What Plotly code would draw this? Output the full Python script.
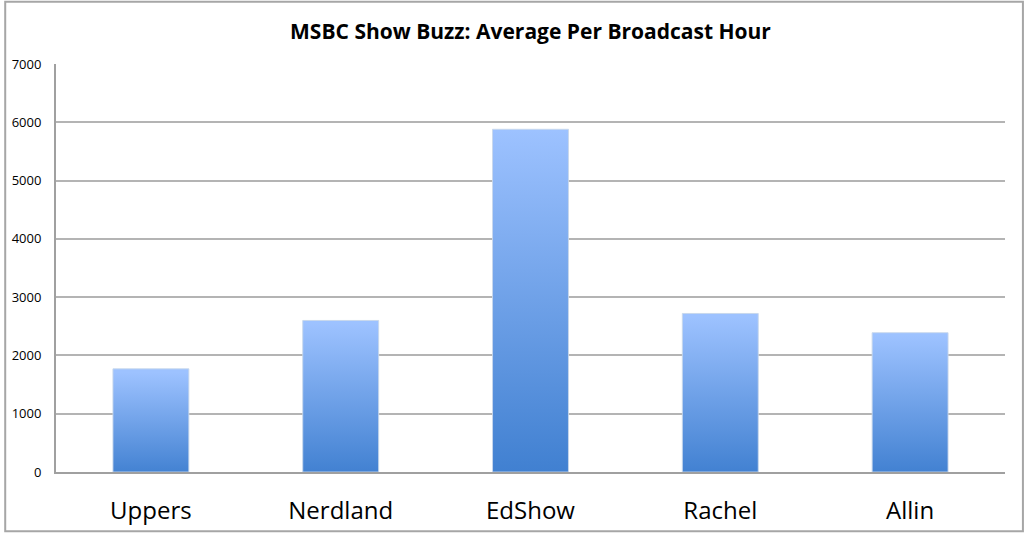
import plotly.graph_objects as go

categories = ["Uppers", "Nerdland", "EdShow", "Rachel", "Allin"]
values = [1770, 2600, 5880, 2720, 2390]
y_ticks = [0, 1000, 2000, 3000, 4000, 5000, 6000, 7000]

W, H = 1024, 538
ML, MR, MT, MB = 52, 19, 64, 61
half = 0.2

fig = go.Figure()
for i, (c, v) in enumerate(zip(categories, values)):
    fig.add_trace(go.Scatter(
        x=[i - half, i + half, i + half, i - half, i - half],
        y=[0, 0, v, v, 0],
        mode="lines",
        fill="toself",
        line=dict(width=1, color="rgba(200,215,235,0.9)"),
        fillgradient=dict(type="vertical", start=0, stop=v,
                          colorscale=[[0, "#3f7fd0"], [1, "#9dc2ff"]]),
        name=c,
        hoverinfo="skip",
        showlegend=False,
    ))

pw = W - ML - MR
ph = H - MT - MB
fig.add_shape(type="rect", xref="paper", yref="paper",
              x0=(1 - ML) / pw, x1=(W - 1 - ML) / pw,
              y0=-(MB - 1) / ph, y1=1 + (MT - 1) / ph,
              line=dict(color="#a6a6a6", width=2), layer="below")

fig.update_layout(
    width=W, height=H,
    margin=dict(l=ML, r=MR, t=MT, b=MB),
    paper_bgcolor="white", plot_bgcolor="white",
    title=dict(text="<b>MSBC Show Buzz: Average Per Broadcast Hour</b>",
               x=0.5, xref="paper", y=1 - 32 / H, yanchor="middle",
               font=dict(family="Open Sans", size=21, color="#000")),
    xaxis=dict(range=[-0.5, 4.5], tickvals=list(range(len(categories))),
               ticktext=categories, showgrid=False, zeroline=False,
               showline=True, linecolor="#a0a0a0", linewidth=2,
               ticks="", ticklabelstandoff=16,
               tickfont=dict(family="Open Sans", size=24, color="#000"),
               fixedrange=True),
    yaxis=dict(range=[0, 7000], tickvals=y_ticks, showgrid=True,
               gridcolor="#b4b4b4", gridwidth=1.5, zeroline=False,
               showline=True, linecolor="#a0a0a0", linewidth=2,
               ticks="", ticklabelstandoff=10,
               tickfont=dict(family="Open Sans", size=13, color="#000"),
               fixedrange=True),
)

fig.write_html("out.html",
               config={"displayModeBar": False},
               post_script="document.body.style.margin='0';document.body.style.overflow='hidden';")
